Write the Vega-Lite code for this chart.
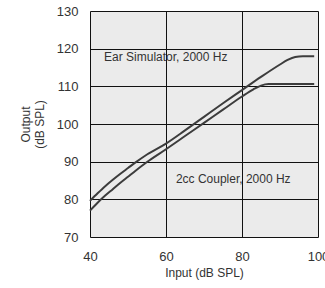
{
  "$schema": "https://vega.github.io/schema/vega-lite/v6.json",
  "width": 228,
  "height": 226,
  "autosize": {"type": "none"},
  "padding": {"left": 90, "top": 11, "right": 7, "bottom": 51},
  "background": "white",
  "config": {
    "view": {"fill": "#ebebeb", "stroke": null},
    "font": "Liberation Sans",
    "axis": {
      "grid": true,
      "gridColor": "#111111",
      "gridWidth": 1,
      "gridOpacity": 1,
      "domain": false,
      "ticks": false,
      "labelOverlap": false,
      "labelFlush": false,
      "labelFont": "Liberation Sans",
      "labelFontSize": 13,
      "labelColor": "#333333",
      "titleFont": "Liberation Sans",
      "titleFontSize": 12,
      "titleFontWeight": "normal",
      "titleColor": "#333333"
    }
  },
  "datasets": {
    "curves": [
      {"series": "Ear Simulator", "input": 40, "output": 79.6},
      {"series": "Ear Simulator", "input": 42, "output": 81.6},
      {"series": "Ear Simulator", "input": 44, "output": 83.5},
      {"series": "Ear Simulator", "input": 46, "output": 85.2},
      {"series": "Ear Simulator", "input": 48, "output": 86.8},
      {"series": "Ear Simulator", "input": 50, "output": 88.3},
      {"series": "Ear Simulator", "input": 52, "output": 89.8},
      {"series": "Ear Simulator", "input": 55, "output": 91.9},
      {"series": "Ear Simulator", "input": 60, "output": 94.8},
      {"series": "Ear Simulator", "input": 65, "output": 98.3},
      {"series": "Ear Simulator", "input": 70, "output": 101.9},
      {"series": "Ear Simulator", "input": 75, "output": 105.5},
      {"series": "Ear Simulator", "input": 80, "output": 109.0},
      {"series": "Ear Simulator", "input": 85, "output": 112.5},
      {"series": "Ear Simulator", "input": 90, "output": 115.8},
      {"series": "Ear Simulator", "input": 92, "output": 117.0},
      {"series": "Ear Simulator", "input": 94, "output": 117.8},
      {"series": "Ear Simulator", "input": 96, "output": 118.0},
      {"series": "Ear Simulator", "input": 99, "output": 118.0},
      {"series": "2cc Coupler", "input": 40, "output": 77.0},
      {"series": "2cc Coupler", "input": 42, "output": 79.1},
      {"series": "2cc Coupler", "input": 44, "output": 81.0},
      {"series": "2cc Coupler", "input": 46, "output": 82.7},
      {"series": "2cc Coupler", "input": 48, "output": 84.4},
      {"series": "2cc Coupler", "input": 50, "output": 86.0},
      {"series": "2cc Coupler", "input": 52, "output": 87.6},
      {"series": "2cc Coupler", "input": 55, "output": 89.9},
      {"series": "2cc Coupler", "input": 60, "output": 93.3},
      {"series": "2cc Coupler", "input": 65, "output": 96.8},
      {"series": "2cc Coupler", "input": 70, "output": 100.3},
      {"series": "2cc Coupler", "input": 75, "output": 103.8},
      {"series": "2cc Coupler", "input": 80, "output": 107.3},
      {"series": "2cc Coupler", "input": 83, "output": 109.2},
      {"series": "2cc Coupler", "input": 85, "output": 110.2},
      {"series": "2cc Coupler", "input": 87, "output": 110.6},
      {"series": "2cc Coupler", "input": 99, "output": 110.6}
    ],
    "labels": [
      {"input": 43.7, "output": 117.8, "text": "Ear Simulator, 2000 Hz"},
      {"input": 62.6, "output": 85.4, "text": "2cc Coupler, 2000 Hz"}
    ]
  },
  "encoding": {
    "x": {
      "field": "input", "type": "quantitative",
      "scale": {"domain": [40, 100], "nice": false, "zero": false},
      "axis": {"values": [40, 60, 80, 100], "title": "Input (dB SPL)", "labelPadding": 13, "titlePadding": 4}
    },
    "y": {
      "field": "output", "type": "quantitative",
      "scale": {"domain": [70, 130], "nice": false, "zero": false},
      "axis": {"values": [70, 80, 90, 100, 110, 120, 130], "title": ["Output", "(dB SPL)"], "labelPadding": 12, "titlePadding": 10}
    }
  },
  "layer": [
    {
      "data": {"name": "curves"},
      "mark": {"type": "line", "strokeWidth": 2, "color": "#3c3c3c", "interpolate": "monotone"},
      "encoding": {
        "detail": {"field": "series"}
      }
    },
    {
      "data": {"name": "labels"},
      "mark": {"type": "text", "align": "left", "baseline": "middle", "fontSize": 12, "color": "#333333", "font": "Liberation Sans"},
      "encoding": {
        "text": {"field": "text"}
      }
    }
  ]
}
